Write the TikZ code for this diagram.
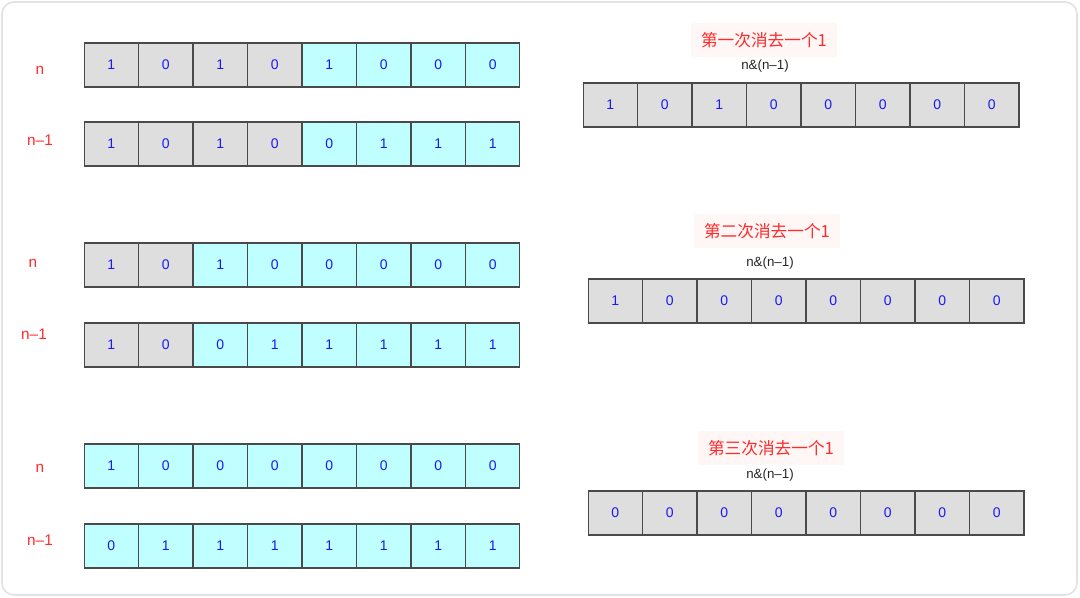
\documentclass[tikz,border=0pt]{standalone}
\usepackage{fontspec}
\setmainfont{Liberation Sans}
\newfontfamily\cjk{Noto Sans CJK SC}
\definecolor{graycell}{HTML}{DEDEDE}
\definecolor{cyancell}{HTML}{C0FFFF}
\definecolor{cellline}{HTML}{4A4A4A}
\definecolor{digit}{HTML}{1A1AF0}
\definecolor{lblred}{HTML}{FF2A2A}
\definecolor{titlebg}{HTML}{FFF6F6}
\definecolor{framegray}{HTML}{E2E2E2}
\tikzset{
  bit/.style={draw=cellline, line width=0.8pt, minimum width=40.8pt, minimum height=33pt,
    inner sep=0pt, text=digit, font=\fontsize{10.5}{12}\selectfont},
  rowlabel/.style={text=lblred, font=\fontsize{11.5}{13}\selectfont, inner sep=0pt},
  titlebox/.style={fill=titlebg, text=lblred, font=\cjk\fontsize{12.5}{15}\selectfont,
    minimum width=110pt, minimum height=25pt, inner sep=0pt},
  exprlabel/.style={text=black!85, font=\fontsize{10}{12}\selectfont, inner sep=0pt}
}
\newcommand\bitrow[5]{%
  \foreach \d [count=\i] in {#5} {
    \pgfmathsetmacro\cx{#2+(\i-0.5)*54.5}
    \ifnum\i>#4\relax \def\fc{cyancell}\else\def\fc{graycell}\fi
    \node[bit, fill=\fc] (#1-\i) at (\cx, #3+22) {\d};
  }}
\begin{document}
\begin{tikzpicture}[x=0.75pt, y=-0.75pt]
\useasboundingbox (0,0) rectangle (1080,598);
\draw[draw=framegray, line width=1.2pt, rounded corners=9pt] (2,2) rectangle (1077,595);
% left column
\node[rowlabel] (l1) at (40,70) {n};
\bitrow{a}{84}{43}{4}{1,0,1,0,1,0,0,0}
\node[rowlabel] (l2) at (40,140) {n–1};
\bitrow{b}{84}{122}{4}{1,0,1,0,0,1,1,1}
\node[rowlabel] (l3) at (33,263) {n};
\bitrow{c}{84}{243}{2}{1,0,1,0,0,0,0,0}
\node[rowlabel] (l4) at (34,334) {n–1};
\bitrow{d}{84}{323}{2}{1,0,0,1,1,1,1,1}
\node[rowlabel] (l5) at (40,468) {n};
\bitrow{e}{84}{444}{0}{1,0,0,0,0,0,0,0}
\node[rowlabel] (l6) at (40,540) {n–1};
\bitrow{f}{84}{524}{0}{0,1,1,1,1,1,1,1}
% right column
\node[titlebox] (t1) at (764,40) {第一次消去一个1};
\node[exprlabel] (x1) at (765,66) {n\&(n–1)};
\bitrow{r}{583}{83}{8}{1,0,1,0,0,0,0,0}
\node[titlebox] (t2) at (767,231) {第二次消去一个1};
\node[exprlabel] (x2) at (770,263) {n\&(n–1)};
\bitrow{s}{588}{279}{8}{1,0,0,0,0,0,0,0}
\node[titlebox] (t3) at (771,448) {第三次消去一个1};
\node[exprlabel] (x3) at (770,475) {n\&(n–1)};
\bitrow{u}{588}{491}{8}{0,0,0,0,0,0,0,0}
\end{tikzpicture}
\end{document}
